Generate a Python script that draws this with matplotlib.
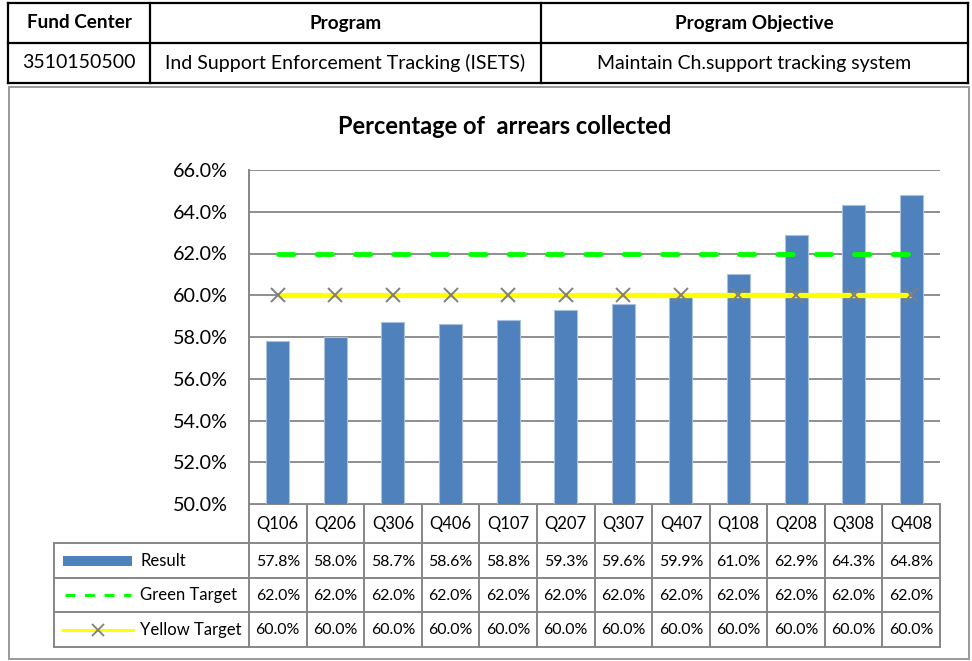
import matplotlib
matplotlib.use("Agg")
import matplotlib.pyplot as plt
from matplotlib.patches import Rectangle
from matplotlib.ticker import FuncFormatter, MultipleLocator

plt.rcParams['font.family'] = ['Lato', 'DejaVu Sans']

# ---- data ----
header_titles = ["Fund Center", "Program", "Program Objective"]
header_values = ["3510150500", "Ind Support Enforcement Tracking (ISETS)",
                 "Maintain Ch.support tracking system"]
chart_title = "Percentage of  arrears collected"
quarters = ["Q106", "Q206", "Q306", "Q406", "Q107", "Q207",
            "Q307", "Q407", "Q108", "Q208", "Q308", "Q408"]
result = [57.8, 58.0, 58.7, 58.6, 58.8, 59.3, 59.6, 59.9, 61.0, 62.9, 64.3, 64.8]
green_target = [62.0, 62.0, 62.0, 62.0, 62.0, 62.0, 62.0, 62.0, 62.0, 62.0, 62.0, 62.0]
yellow_target = [60.0, 60.0, 60.0, 60.0, 60.0, 60.0, 60.0, 60.0, 60.0, 60.0, 60.0, 60.0]
series_names = ["Result", "Green Target", "Yellow Target"]

# ---- styles ----
W, H = 972, 661
BAR = '#4F81BD'
BAR_EDGE = '#A9C0DF'
GREEN = '#00FF00'
YELLOW = '#FFFF00'
GRAY = '#868686'
MARK = '#7F7F7F'

fig = plt.figure(figsize=(W / 100, H / 100), dpi=100)

# main plot area in pixel coordinates
L, R, T, B = 249, 940, 170, 504
ax = fig.add_axes([L / W, (H - B) / H, (R - L) / W, (B - T) / H])
n = len(quarters)
x = list(range(n))

ax.bar(x, result, width=0.4, bottom=0, color=BAR, edgecolor=BAR_EDGE,
       linewidth=0.8, zorder=3)
ax.plot(x, green_target, color=GREEN, lw=3.5, dashes=(3.2, 4.7),
        dash_capstyle='round', zorder=4)
ax.plot(x, yellow_target, color=YELLOW, lw=3.8, solid_capstyle='butt', zorder=4)
ax.plot(x, yellow_target, ls='none', marker='x', ms=9.5, mew=1.4, color=MARK, zorder=5)

ax.set_xlim(-0.5, n - 0.5)
ax.set_ylim(50, 66)
ax.yaxis.set_major_locator(MultipleLocator(2))
ax.yaxis.set_major_formatter(FuncFormatter(lambda v, p: f"{v:.1f}%"))
ax.grid(axis='y', color=GRAY, lw=1.3, zorder=0)
ax.set_xticks([])
ax.tick_params(axis='y', length=0, pad=15.5, labelsize=14.2, labelcolor='#000000')
for s in ['top', 'right', 'bottom']:
    ax.spines[s].set_visible(False)
ax.spines['left'].set_color(GRAY)
ax.spines['left'].set_linewidth(1.4)
ax.set_axisbelow(True)

# overlay in pixel coordinates for frames and tables
ov = fig.add_axes([0, 0, 1, 1], zorder=-1)
ov.set_xlim(0, W)
ov.set_ylim(H, 0)
ov.axis('off')
ov.patch.set_alpha(0)

# header table
hx = [8, 150, 541, 968]
hy = [3, 43, 83]
for xx in hx:
    ov.plot([xx, xx], [hy[0], hy[-1]], color='black', lw=1.6, solid_capstyle='projecting')
for yy in hy:
    ov.plot([hx[0], hx[-1]], [yy, yy], color='black', lw=1.6, solid_capstyle='projecting')
for i in range(3):
    cx = (hx[i] + hx[i + 1]) / 2
    ov.text(cx, (hy[0] + hy[1]) / 2, header_titles[i], ha='center', va='center',
            fontsize=13.6, fontweight='bold')
    ov.text(cx, (hy[1] + hy[2]) / 2, header_values[i], ha='center', va='center',
            fontsize=14)

# chart frame
ov.add_patch(Rectangle((9, 87), 960, 572, fill=False, ec='#9A9A9A', lw=1.4))

# chart title
ov.text(505, 126, chart_title, ha='center', va='center', fontsize=17, fontweight='bold')

# data table under the axis
cw = (R - L) / n
col_x = [L + i * cw for i in range(n + 1)]
row_y = [504, 543, 578, 612, 647]
TL = 54
tlw = 1.4
ov.plot([L, R], [row_y[0], row_y[0]], color=GRAY, lw=tlw)
for yy in row_y[1:]:
    ov.plot([TL, R], [yy, yy], color=GRAY, lw=tlw)
for xx in col_x:
    ov.plot([xx, xx], [row_y[0], row_y[-1]], color=GRAY, lw=tlw)
ov.plot([TL, TL], [row_y[1], row_y[-1]], color=GRAY, lw=tlw)

for i, q in enumerate(quarters):
    cx = (col_x[i] + col_x[i + 1]) / 2
    ov.text(cx, (row_y[0] + row_y[1]) / 2 + 1, q, ha='center', va='center', fontsize=12)
    for r, vals in enumerate([result, green_target, yellow_target]):
        ov.text(cx, (row_y[r + 1] + row_y[r + 2]) / 2 + 1, f"{vals[i]:.1f}%",
                ha='center', va='center', fontsize=11.4)

# legend keys inside the table
ky = [(row_y[r + 1] + row_y[r + 2]) / 2 for r in range(3)]
ov.add_patch(Rectangle((63, ky[0] - 5), 69, 10, color=BAR, lw=0))
ov.plot([65, 131], [ky[1], ky[1]], color=GREEN, lw=2.2, dashes=(3.2, 3.2))
ov.plot([63, 133], [ky[2], ky[2]], color=YELLOW, lw=2.2)
ov.plot([98], [ky[2]], marker='x', ms=8, mew=1.3, color=MARK)
for r, name in enumerate(series_names):
    ov.text(140, ky[r], name, ha='left', va='center', fontsize=12)

fig.savefig('out.png', dpi=100)
